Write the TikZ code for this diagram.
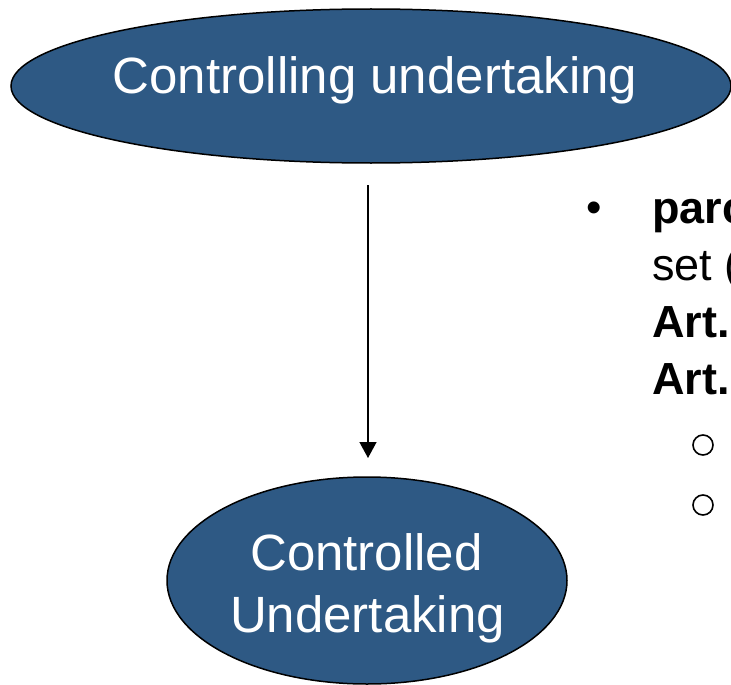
\documentclass[tikz,border=0pt]{standalone}
\usepackage{fontspec}
\setmainfont{Liberation Sans}
\usetikzlibrary{shapes.geometric,arrows.meta}
\definecolor{ellblue}{RGB}{46,89,132}
\tikzset{
  ell/.style={ellipse, draw=black, line width=1.5pt, fill=ellblue, inner sep=0pt},
  elltext/.style={text=white, inner sep=0pt, font=\fontsize{51}{60}\selectfont},
  bodytext/.style={inner sep=0pt, anchor=base west, font=\fontsize{45}{52}\selectfont},
  bodybold/.style={bodytext, font=\fontsize{45}{52}\selectfont\bfseries},
  subbullet/.style={circle, draw=black, line width=1.6pt, minimum size=20pt, inner sep=0pt},
  conn/.style={line width=1.4pt, -{Triangle[length=16pt,width=17pt]}}
}
\begin{document}
\begin{tikzpicture}[x=1pt,y=-1pt]
\useasboundingbox (0,0) rectangle (731,685);
\clip (0,0) rectangle (731,685);
\node[ell, minimum width=720pt, minimum height=154pt] (top) at (371,86) {};
\node[elltext, anchor=base] (toptext) at (375,93) {Controlling undertaking};
\node[ell, minimum width=400pt, minimum height=207pt] (bot) at (367,580.5) {};
\node[elltext, anchor=base] (bottext1) at (366.5,570) {Controlled};
\node[elltext, anchor=base] (bottext2) at (367.5,632) {Undertaking};
\coordinate (arrS) at (368,185);
\coordinate (arrE) at (368,458);
\draw[conn] (arrS) -- (arrE);
\node[inner sep=0pt, anchor=base, font=\fontsize{44}{50}\selectfont] (bullet) at (594,222) {•};
\node[bodybold] (l1) at (652,223) {parc};
\node[bodytext] (l2) at (652,280) {set (};
\node[bodybold] (l3) at (652,337) {Art.};
\node[bodybold] (l4) at (652,394) {Art.};
\node[subbullet] (sb1) at (703,445) {};
\node[subbullet] (sb2) at (703,505) {};
\end{tikzpicture}
\end{document}
